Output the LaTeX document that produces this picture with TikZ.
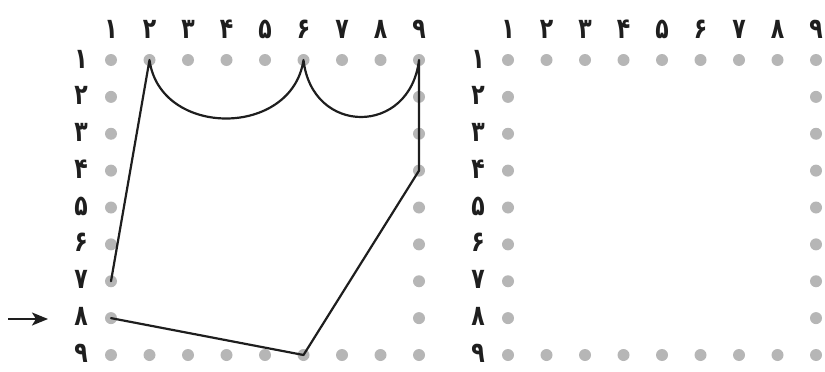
\documentclass[tikz,border=0pt]{standalone}
\usepackage{fontspec}
\newfontfamily\fa[Script=Arabic]{DejaVu Sans}
\usetikzlibrary{arrows.meta}
\definecolor{dotgray}{RGB}{182,182,182}
\definecolor{ink}{RGB}{30,30,30}
\newcommand{\tallnum}[1]{\scalebox{1}[1.3]{#1}}
\begin{document}
\begin{tikzpicture}[x=1pt,y=-1pt,
  dot/.style={circle,fill=dotgray,inner sep=0pt,minimum size=12pt},
  lab/.style={font=\fa\bfseries\fontsize{22}{22}\selectfont,text=ink,inner sep=0pt},
  route/.style={draw=ink,line width=2.2pt,line join=round,line cap=round},
  pointer/.style={draw=ink,line width=1.8pt,-{Stealth[length=16pt,width=13pt,inset=4pt]}}]
\useasboundingbox (0,0) rectangle (825,372);
\foreach \g/\ox in {L/111,R/508}{
  \foreach \c in {1,...,9}{
    \node[dot] (\g-\c-1) at ({\ox+(\c-1)*38.5},60) {};
    \node[dot] (\g-\c-9) at ({\ox+(\c-1)*38.5},355) {};
  }
  \foreach \r in {2,...,8}{
    \node[dot] (\g-1-\r) at (\ox,{60+(\r-1)*36.875}) {};
    \node[dot] (\g-9-\r) at ({\ox+8*38.5},{60+(\r-1)*36.875}) {};
  }
  \foreach \i/\d in {1/۱,2/۲,3/۳,4/۴,5/۵,6/۶,7/۷,8/۸,9/۹}{
    \node[lab] (\g-top-\i) at ({\ox+(\i-1)*38.5},29) {\tallnum{\d}};
    \node[lab] (\g-side-\i) at ({\ox-30},{59+(\i-1)*36.75}) {\tallnum{\d}};
  }
}
\draw[route] (L-1-7.center) -- (L-2-1.center)
  .. controls (160,138) and (292,138) .. (L-6-1.center)
  .. controls (312,136) and (410,136) .. (L-9-1.center)
  -- (L-9-4.center) -- (L-6-9.center) -- (L-1-8.center);
\coordinate (arrowtail) at (8,319);
\coordinate (arrowhead) at (48,319);
\draw[pointer] (arrowtail) -- (arrowhead);
\end{tikzpicture}
\end{document}
